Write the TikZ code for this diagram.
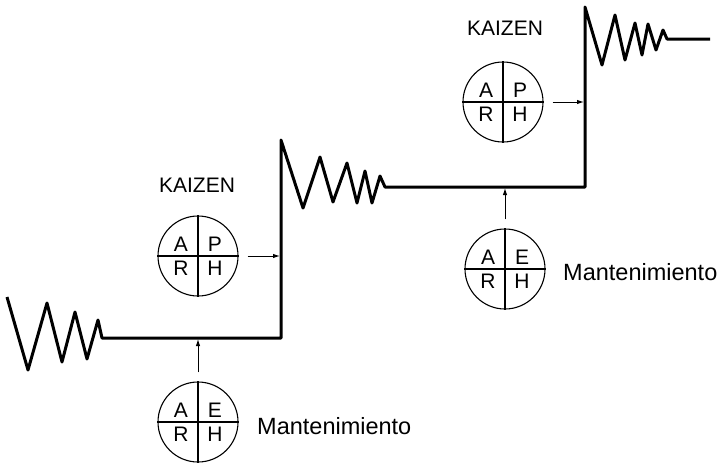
\documentclass[tikz,border=0pt]{standalone}
\usepackage{fontspec}
\setmainfont{Liberation Sans}
\usetikzlibrary{arrows.meta}

\begin{document}
\begin{tikzpicture}[x=1pt,y=-1pt]
      \tikzstyle{pdca}=[draw, circle, line width=1.1pt, minimum size=80pt, inner sep=0pt]
      \tikzstyle{cross}=[line width=1.5pt]
      \tikzstyle{letter}=[inner sep=0pt, font=\fontsize{21}{24}\selectfont]
      \tikzstyle{kaizen}=[inner sep=0pt, font=\fontsize{21}{24}\selectfont]
      \tikzstyle{mant}=[inner sep=0pt, anchor=west, font=\fontsize{23.5}{26}\selectfont]
      \tikzstyle{feed}=[-{Latex[length=7pt,width=4.5pt]}, line width=1pt, shorten <=9pt, shorten >=1pt]
      \tikzstyle{stair}=[line width=3pt, line join=round]
      \useasboundingbox (0,0) rectangle (720,466);
      % the staircase
      \draw[stair] (7,297) -- (28,370) -- (47,303) -- (62,362) -- (75,312) -- (87,359)
        -- (98,320) -- (102,338) -- (281,338) -- (281,140) -- (303,208) -- (320,157)
        -- (333,202) -- (347,163) -- (357,203) -- (365,171) -- (372,203) -- (380,176)
        -- (385,187) -- (585,187) -- (585,7) -- (602,65) -- (615,15) -- (625,60)
        -- (635,23) -- (642,55) -- (648,24) -- (656,50) -- (663,30) -- (667,39) -- (710,39);
      \coordinate (s1) at (198,338);
      \coordinate (s2) at (281,256);
      \coordinate (s3) at (505,187);
      \coordinate (s4) at (585,102);
      % the four circles
      \foreach \n/\x/\y/\t in {m1/198/422/E, k1/198/256/P, m2/505/269/E, k2/503/102/P} {
        \node[pdca] (\n) at (\x,\y) {};
        \draw[cross] (\n.north) -- (\n.south);
        \draw[cross] (\n.west) -- (\n.east);
        \node[letter, xshift=-17pt, yshift=12pt] (\n-a) at (\n) {A};
        \node[letter, xshift=17pt, yshift=12pt] (\n-t) at (\n) {\t};
        \node[letter, xshift=-17pt, yshift=-12pt] (\n-r) at (\n) {R};
        \node[letter, xshift=17pt, yshift=-12pt] (\n-h) at (\n) {H};
      }
      \node[kaizen] (kt1) at (197,185) {KAIZEN};
      \node[kaizen] (kt2) at (505,28) {KAIZEN};
      \node[mant] (mt1) at (257,426) {Mantenimiento};
      \node[mant] (mt2) at (563,272) {Mantenimiento};
      \draw[feed] (m1) -- (s1);
      \draw[feed] (k1) -- (s2);
      \draw[feed] (m2) -- (s3);
      \draw[feed] (k2) -- (s4);
    \end{tikzpicture}
\end{document}
